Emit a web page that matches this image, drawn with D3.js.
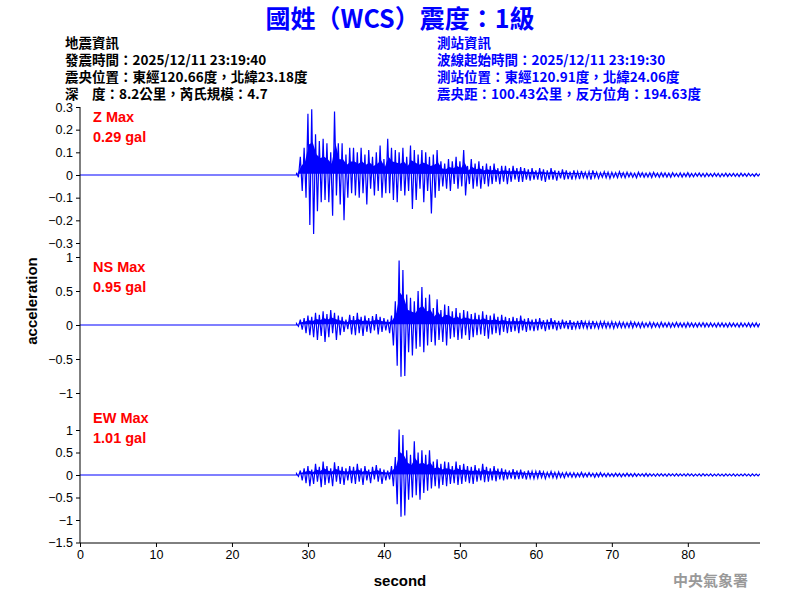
<!DOCTYPE html>
<html><head><meta charset="utf-8">
<script src="https://cdn.jsdelivr.net/npm/d3@7"></script>
<style>body{margin:0;background:#fff}text{font-family:"Liberation Sans",Arial,sans-serif}</style>
</head><body><svg id="c" width="800" height="600"></svg>
<script>
const title = "國姓（WCS）震度：1級";
const leftInfo = ["地震資訊","發震時間：2025/12/11 23:19:40","震央位置：東經120.66度，北緯23.18度","深　度：8.2公里，芮氏規模：4.7"];
const rightInfo = ["測站資訊","波線起始時間：2025/12/11 23:19:30","測站位置：東經120.91度，北緯24.06度","震央距：100.43公里，反方位角：194.63度"];
const xTicks = [0,10,20,30,40,50,60,70,80];
const onset = 28.5, binSec = 0.5, endSec = 89.5;
// Envelope per 0.5 s bin from 28.5 s
const zMax = [0.01,0.08,0.12,0.27,0.29,0.18,0.15,0.16,0.14,0.10,0.28,0.14,0.14,0.09,0.12,0.12,0.10,0.12,0.09,0.11,0.08,0.10,0.13,0.07,0.16,0.12,0.11,0.10,0.12,0.08,0.13,0.11,0.09,0.11,0.10,0.08,0.09,0.11,0.06,0.05,0.07,0.06,0.08,0.06,0.11,0.04,0.07,0.05,0.06,0.04,0.05,0.04,0.05,0.03,0.04,0.04,0.03,0.04,0.03,0.035,0.03,0.025,0.03,
0.02,0.03,0.025,0.02,0.03,0.02,0.018,0.025,0.02,0.015,0.02,0.015,0.018,0.012,0.015,0.02,0.012,0.01,0.015,0.012,0.012,0.01,0.015,0.01,0.012,0.01,0.008,0.012,0.01,0.008,0.01,0.012,0.008,0.01,0.009,0.008,0.01,0.007,0.009,0.008,0.01,0.007,0.008,0.009,0.007,0.008,0.006,0.008,0.007,0.006,0.008,0.006,0.007,0.006,0.008,0.006,0.007,0.005,0.006,0.006];
const zMin = [-0.01,-0.07,-0.10,-0.22,-0.26,-0.16,-0.12,-0.11,-0.12,-0.18,-0.09,-0.13,-0.20,-0.10,-0.08,-0.09,-0.10,-0.08,-0.13,-0.06,-0.09,-0.07,-0.10,-0.08,-0.08,-0.11,-0.12,-0.07,-0.09,-0.07,-0.15,-0.11,-0.06,-0.12,-0.07,-0.17,-0.10,-0.07,-0.05,-0.06,-0.07,-0.04,-0.06,-0.05,-0.09,-0.04,-0.06,-0.05,-0.06,-0.04,-0.05,-0.04,-0.03,-0.04,-0.03,-0.04,-0.03,-0.02,-0.03,-0.03,-0.02,-0.025,-0.02,
-0.02,-0.025,-0.03,-0.02,-0.02,-0.025,-0.015,-0.02,-0.018,-0.02,-0.015,-0.018,-0.012,-0.015,-0.02,-0.012,-0.015,-0.01,-0.012,-0.015,-0.01,-0.012,-0.01,-0.012,-0.009,-0.01,-0.012,-0.008,-0.01,-0.009,-0.011,-0.008,-0.01,-0.008,-0.009,-0.01,-0.007,-0.008,-0.009,-0.007,-0.008,-0.008,-0.006,-0.007,-0.008,-0.006,-0.007,-0.006,-0.008,-0.006,-0.007,-0.005,-0.006,-0.007,-0.005,-0.006,-0.005,-0.006,-0.005];
const nsMax = [0.02,0.08,0.10,0.14,0.12,0.18,0.15,0.20,0.16,0.22,0.18,0.14,0.12,0.08,0.15,0.13,0.18,0.12,0.14,0.10,0.13,0.16,0.12,0.10,0.08,0.14,0.35,0.95,0.81,0.45,0.40,0.35,0.50,0.56,0.40,0.45,0.25,0.38,0.22,0.30,0.28,0.20,0.25,0.18,0.22,0.20,0.16,0.18,0.15,0.20,0.15,0.14,0.17,0.12,0.15,0.12,0.10,0.12,0.10,0.14,0.09,0.10,0.08,
0.09,0.10,0.07,0.08,0.10,0.07,0.06,0.08,0.06,0.07,0.05,0.06,0.07,0.05,0.05,0.06,0.04,0.05,0.05,0.04,0.05,0.04,0.045,0.04,0.035,0.05,0.04,0.035,0.04,0.03,0.04,0.035,0.03,0.04,0.03,0.035,0.03,0.04,0.03,0.03,0.035,0.03,0.028,0.03,0.035,0.028,0.03,0.025,0.03,0.03,0.025,0.03,0.028,0.025,0.03,0.025,0.03,0.028,0.03,0.025];
const nsMin = [-0.02,-0.07,-0.12,-0.15,-0.18,-0.22,-0.16,-0.25,-0.18,-0.12,-0.22,-0.15,-0.10,-0.06,-0.14,-0.15,-0.12,-0.16,-0.10,-0.12,-0.08,-0.14,-0.10,-0.08,-0.12,-0.30,-0.60,-0.76,-0.75,-0.40,-0.45,-0.35,-0.32,-0.40,-0.30,-0.25,-0.30,-0.22,-0.25,-0.30,-0.20,-0.18,-0.22,-0.20,-0.15,-0.22,-0.18,-0.15,-0.14,-0.16,-0.20,-0.14,-0.12,-0.15,-0.10,-0.12,-0.10,-0.09,-0.12,-0.08,-0.10,-0.08,-0.09,
-0.08,-0.06,-0.09,-0.07,-0.06,-0.08,-0.06,-0.05,-0.06,-0.07,-0.05,-0.06,-0.04,-0.05,-0.06,-0.04,-0.05,-0.04,-0.045,-0.04,-0.05,-0.035,-0.04,-0.04,-0.035,-0.04,-0.03,-0.04,-0.035,-0.03,-0.04,-0.03,-0.035,-0.03,-0.03,-0.035,-0.03,-0.028,-0.03,-0.035,-0.028,-0.03,-0.03,-0.025,-0.03,-0.028,-0.025,-0.03,-0.025,-0.028,-0.03,-0.025,-0.025,-0.03,-0.025,-0.025,-0.03,-0.025,-0.028];
const ewMax = [0.03,0.10,0.15,0.20,0.12,0.25,0.18,0.30,0.20,0.15,0.28,0.20,0.18,0.15,0.20,0.18,0.25,0.15,0.20,0.12,0.18,0.22,0.15,0.12,0.10,0.20,0.40,1.01,0.89,0.55,0.45,0.75,0.50,0.55,0.45,0.55,0.30,0.35,0.25,0.30,0.28,0.20,0.30,0.22,0.25,0.20,0.18,0.22,0.15,0.25,0.18,0.15,0.20,0.14,0.15,0.12,0.10,0.13,0.10,0.12,0.08,0.10,0.08,
0.08,0.10,0.07,0.06,0.08,0.06,0.07,0.05,0.06,0.05,0.05,0.04,0.06,0.04,0.05,0.04,0.04,0.05,0.035,0.04,0.03,0.04,0.035,0.03,0.04,0.03,0.035,0.03,0.03,0.035,0.03,0.025,0.03,0.03,0.025,0.03,0.025,0.03,0.025,0.025,0.03,0.025,0.02,0.025,0.03,0.02,0.025,0.02,0.025,0.02,0.025,0.02,0.025,0.02,0.02,0.025,0.02,0.025,0.02,0.025];
const ewMin = [-0.03,-0.12,-0.18,-0.25,-0.20,-0.15,-0.27,-0.22,-0.18,-0.25,-0.15,-0.20,-0.22,-0.12,-0.18,-0.20,-0.15,-0.22,-0.12,-0.18,-0.10,-0.15,-0.20,-0.12,-0.10,-0.25,-0.65,-0.93,-0.90,-0.55,-0.50,-0.45,-0.55,-0.40,-0.35,-0.30,-0.25,-0.30,-0.22,-0.25,-0.20,-0.18,-0.22,-0.20,-0.15,-0.18,-0.20,-0.15,-0.12,-0.16,-0.15,-0.12,-0.14,-0.10,-0.12,-0.10,-0.08,-0.10,-0.09,-0.08,-0.10,-0.07,-0.08,
-0.07,-0.06,-0.08,-0.05,-0.06,-0.07,-0.05,-0.06,-0.04,-0.05,-0.05,-0.04,-0.045,-0.04,-0.035,-0.05,-0.04,-0.035,-0.04,-0.03,-0.035,-0.03,-0.04,-0.03,-0.03,-0.035,-0.03,-0.025,-0.03,-0.03,-0.025,-0.03,-0.025,-0.025,-0.03,-0.02,-0.025,-0.025,-0.02,-0.025,-0.02,-0.025,-0.02,-0.025,-0.02,-0.02,-0.025,-0.02,-0.02,-0.025,-0.02,-0.02,-0.025,-0.02,-0.02,-0.02,-0.025,-0.02,-0.02];
const panels = [
 {name:"Z Max", peak:"0.29 gal", max:zMax, min:zMin, domain:[-0.3,0.3], range:[243,107], ticks:[-0.3,-0.2,-0.1,0,0.1,0.2,0.3]},
 {name:"NS Max", peak:"0.95 gal", max:nsMax, min:nsMin, domain:[-1,1], range:[393,257], ticks:[-1,-0.5,0,0.5,1]},
 {name:"EW Max", peak:"1.01 gal", max:ewMax, min:ewMin, domain:[-1.5,1.5], range:[542.5,407.5], ticks:[-1.5,-1,-0.5,0,0.5,1]}
];
const svg = d3.select("#c");
const x = d3.scaleLinear().domain([0,endSec]).range([80,760]);
const cjk = '"Noto Sans CJK TC","Liberation Sans",sans-serif';
svg.append("text").attr("x",400).attr("y",28).attr("text-anchor","middle").attr("fill","#0000ff")
  .attr("font-size",25).attr("font-weight","bold").style("font-family",cjk).text(title);
leftInfo.forEach((t,i)=>svg.append("text").attr("x",65).attr("y",48+i*17).attr("font-size",13.5).attr("font-weight","bold").style("font-family",cjk).attr("fill","#000").text(t));
rightInfo.forEach((t,i)=>svg.append("text").attr("x",437).attr("y",48+i*17).attr("font-size",13.5).attr("font-weight","bold").style("font-family",cjk).attr("fill","#0000ff").text(t));
svg.append("defs").append("clipPath").attr("id","cp").append("rect").attr("x",80).attr("y",100).attr("width",680).attr("height",450);
panels.forEach(p=>{
  const y = d3.scaleLinear().domain(p.domain).range(p.range);
  const pts = [[0,0],[onset,0]];
  const bins = [];
  p.max.forEach((v,i)=>{const t=onset+i*binSec; if(t<=endSec){pts.push([t,v]);pts.push([t+binSec/2,p.min[i]]);bins.push({t:t+binSec/4,hi:v,lo:p.min[i]});}});
  svg.append("path").attr("clip-path","url(#cp)")
    .attr("d",d3.area().x(d=>x(d.t)).y0(d=>y(d.lo*0.5)).y1(d=>y(d.hi*0.5))(bins))
    .attr("fill","#0000ff");
  svg.append("path").attr("clip-path","url(#cp)").attr("d",d3.line().x(d=>x(d[0])).y(d=>y(d[1]))(pts))
    .attr("fill","none").attr("stroke","#0000ff").attr("stroke-width",1.2);
  const ax = svg.append("g").attr("transform","translate(80,0)").call(d3.axisLeft(y).tickValues(p.ticks).tickSize(4).tickFormat(d3.format("~g")));
  ax.select(".domain").remove();
  ax.selectAll("text").attr("font-size",12.5).attr("fill","#000").style("font-family","Liberation Sans");
  const yt = p.range[1];
  svg.append("text").attr("x",93).attr("y",yt+15).attr("fill","#ff0000").attr("font-size",14.5).attr("font-weight","bold").text(p.name);
  svg.append("text").attr("x",93).attr("y",yt+35).attr("fill","#ff0000").attr("font-size",14.5).attr("font-weight","bold").text(p.peak);
});
svg.append("line").attr("x1",80).attr("x2",80).attr("y1",107).attr("y2",543).attr("stroke","#000");
const xa = svg.append("g").attr("transform","translate(0,543)").call(d3.axisBottom(x).tickValues(xTicks).tickSize(4).tickSizeOuter(0));
xa.selectAll("text").attr("font-size",12.5).attr("fill","#000");
xa.select(".domain").attr("d","M80,0H760");
svg.append("text").attr("x",400).attr("y",586).attr("text-anchor","middle").attr("font-size",15).attr("font-weight","bold").text("second");
svg.append("text").attr("transform","translate(37,301) rotate(-90)").attr("text-anchor","middle").attr("font-size",15).attr("font-weight","bold").text("acceleration");
svg.append("text").attr("x",748).attr("y",586).attr("text-anchor","end").attr("font-size",15).attr("font-weight","bold").attr("fill","#999").style("font-family",cjk).text("中央氣象署");
</script></body></html>
